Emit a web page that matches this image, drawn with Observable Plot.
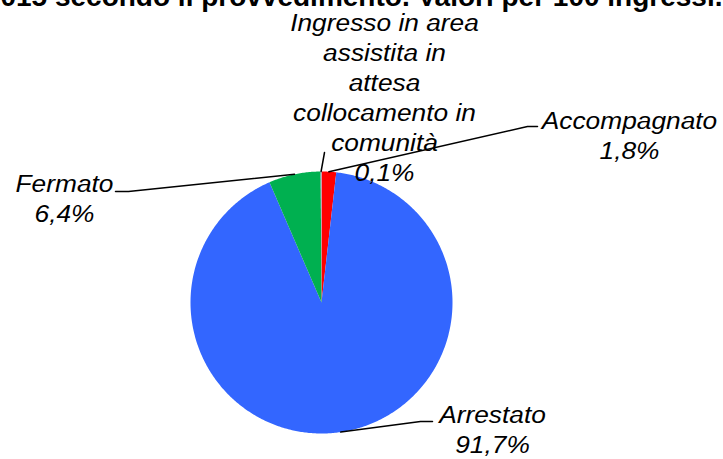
<!DOCTYPE html>
<html><head><meta charset="utf-8">
<script src="https://cdn.jsdelivr.net/npm/d3@7"></script>
<script src="https://cdn.jsdelivr.net/npm/@observablehq/plot@0.6"></script>
<style>body{margin:0;background:#fff;overflow:hidden}</style>
</head><body><div id="chart"></div>
<script>
// ---- data ----
const categories = ["Accompagnato", "Arrestato", "Fermato", "Ingresso in area assistita in attesa collocamento in comunità"];
const values = [1.8, 91.7, 6.4, 0.1];
const valueLabels = ["1,8%", "91,7%", "6,4%", "0,1%"];
const labelNames = ["Accompagnato", "Arrestato", "Fermato", "Ingresso in area\nassistita in\nattesa\ncollocamento in\ncomunità"];
const colors = ["#ff0000", "#3366ff", "#00b050", "#aab4dc"];
const title = "2015 secondo il provvedimento. Valori per 100 ingressi.";

// ---- layout ----
const W = 723, H = 459;
const cx = 321, cy = 302, r = 131;
const labelPos = [
  {x: 629, y: 134, elbow: [527, 126], end: [537, 126]},
  {x: 492, y: 428, elbow: [420, 421], end: [432, 421]},
  {x: 64, y: 197, elbow: [128, 191], end: [115, 191]},
  {x: 384, y: 96, elbow: null, end: [324, 152]}
];

const arcs = d3.pie().sort(null).value(d => d)(values);
const pt = (a, rad) => [cx + rad * Math.sin(a), cy - rad * Math.cos(a)];

const slicePts = [];
arcs.forEach((a, i) => {
  slicePts.push({k: categories[i], x: cx, y: cy});
  const n = Math.max(2, Math.ceil((a.endAngle - a.startAngle) / 0.01));
  for (let j = 0; j <= n; j++) {
    const ang = a.startAngle + (a.endAngle - a.startAngle) * j / n;
    const [x, y] = pt(ang, r);
    slicePts.push({k: categories[i], x, y});
  }
  slicePts.push({k: categories[i], x: cx, y: cy});
});

const leaderPts = [];
arcs.forEach((a, i) => {
  const mid = (a.startAngle + a.endAngle) / 2;
  const [x0, y0] = pt(mid, r);
  leaderPts.push({k: i, x: x0, y: y0});
  const L = labelPos[i];
  if (L.elbow) leaderPts.push({k: i, x: L.elbow[0], y: L.elbow[1]});
  leaderPts.push({k: i, x: L.end[0], y: L.end[1]});
});

const labels = categories.map((c, i) => ({
  text: labelNames[i] + "\n" + valueLabels[i],
  x: labelPos[i].x, y: labelPos[i].y
}));

const chart = Plot.plot({
  width: W, height: H,
  margin: 0,
  x: {domain: [0, W], axis: null},
  y: {domain: [H, 0], axis: null},
  color: {type: "ordinal", domain: categories, range: colors},
  style: {fontFamily: "'Liberation Sans', Arial, sans-serif", background: "white"},
  marks: [
    Plot.line(slicePts, {x: "x", y: "y", z: "k", fill: "k", stroke: "none", curve: "linear"}),
    Plot.line(leaderPts, {x: "x", y: "y", z: "k", stroke: "black", strokeWidth: 1.5}),
    Plot.text(labels, {x: "x", y: "y", text: "text", fontSize: 23.5, fontStyle: "italic", lineHeight: 1.28, lineAnchor: "middle", textAnchor: "middle", fill: "black"}),
    Plot.text([title], {x: W - 1, y: -3, text: d => d, fontSize: 28, fontWeight: "bold", textAnchor: "end", lineAnchor: "middle", fill: "black"})
  ]
});
// widen the italic labels horizontally, as in the reference
d3.select(chart).selectAll("g[font-style='italic'] text").each(function() {
  const t = this.getAttribute("transform");
  if (t && t.includes("translate")) this.setAttribute("transform", t + " scale(1.12,1)");
});
document.getElementById("chart").append(chart);
</script>
</body></html>
